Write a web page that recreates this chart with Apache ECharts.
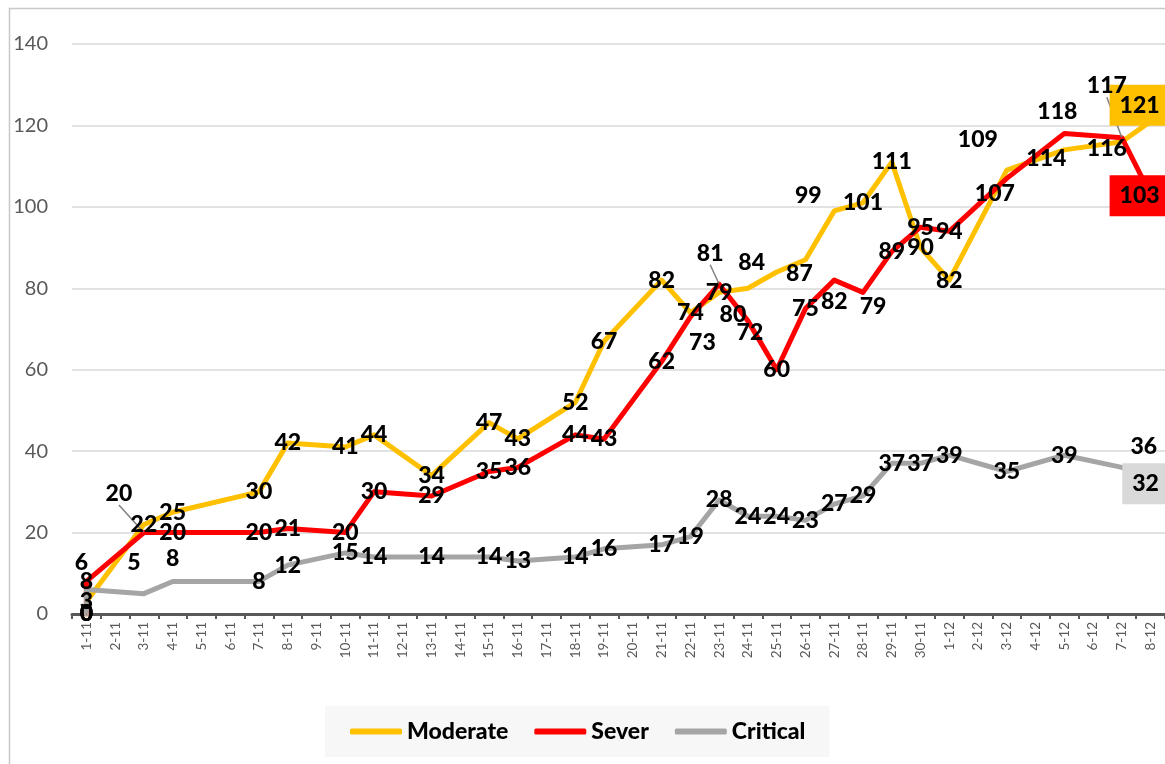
<!DOCTYPE html>
<html>
<head>
<meta charset="utf-8">
<script src="https://cdn.jsdelivr.net/npm/echarts@6/dist/echarts.min.js"></script>
<style>
html,body{margin:0;padding:0;background:#fff;}
#chart{width:1165px;height:764px;}
</style>
</head>
<body>
<div id="chart"></div>
<script>
const categories = ['1-11','2-11','3-11','4-11','5-11','6-11','7-11','8-11','9-11','10-11','11-11','12-11','13-11','14-11','15-11','16-11','17-11','18-11','19-11','20-11','21-11','22-11','23-11','24-11','25-11','26-11','27-11','28-11','29-11','30-11','1-12','2-12','3-12','4-12','5-12','6-12','7-12','8-12'];
const moderate = [3,null,22,25,null,null,30,42,null,41,44,null,34,null,47,43,null,52,67,null,82,74,79,80,84,87,99,101,111,90,82,null,109,null,114,null,116,121];
const sever    = [8,null,20,20,null,null,20,21,null,20,30,null,29,null,35,36,null,44,43,null,62,73,81,72,60,75,82,79,89,95,94,null,107,null,118,null,117,103];
const critical = [6,null,5,8,null,null,8,12,null,15,14,null,14,null,14,13,null,14,16,null,17,19,28,24,24,23,27,29,37,37,39,null,35,null,39,null,36,32];
// each series opens at 0 on the first day
const openingValues = [0, 0, 0];
const yTicks = [0, 20, 40, 60, 80, 100, 120, 140];

const seriesNames = ['Moderate', 'Sever', 'Critical'];
const seriesColors = ['#FFC000', '#FF0000', '#A5A5A5'];
const seriesValues = [moderate, sever, critical];

// label displacement (px) keyed by category index
const labelOffsets = [
  {23:[-15,26], 24:[-25,-9], 25:[-6,14], 26:[-26,-15], 32:[-29,-31], 34:[-18,9], 36:[-15,7], 37:[-11,-16]},
  {2:[-25,-39], 21:[12,26], 22:[-9,-31], 23:[2,12], 26:[0,21], 27:[10,14], 32:[-12,15], 34:[-7,-22], 36:[-15,-52], 37:[-11,1]},
  {0:[-5,-27], 2:[-10,-31], 3:[0,-23], 36:[22,-21], 37:[-5,0]}
];
const leaderLines = [[], [2, 22, 36], []];
const boxColors = ['#FFC000', '#FF0000', '#D9D9D9'];

const labelFont = 'Lato';
const series = seriesValues.map((vals, s) => {
  const catIdx = [0];
  const data = [{value: [0, openingValues[s]]}];
  vals.forEach((v, i) => {
    if (v === null) return;
    catIdx.push(i);
    const item = {value: [i, v]};
    if (leaderLines[s].includes(i)) item.labelLine = {show: true, lineStyle: {color: '#808080', width: 1.5}};
    if (i === vals.length - 1) item.label = {backgroundColor: boxColors[s], padding: [10, 10, 8, 10]};
    data.push(item);
  });
  return {
    name: seriesNames[s],
    type: 'line',
    data: data,
    symbol: 'circle',
    symbolSize: 1,
    showSymbol: true,
    itemStyle: {color: seriesColors[s]},
    lineStyle: {color: seriesColors[s], width: 5, cap: 'round', join: 'round'},
    label: {
      show: true,
      position: 'inside',
      color: '#000',
      fontFamily: labelFont,
      fontWeight: 900,
      fontSize: 23
    },
    labelLine: {show: false},
    labelLayout: function (p) {
      const ci = catIdx[p.dataIndex];
      const o = (p.dataIndex > 0) ? labelOffsets[s][ci] : null;
      return o ? {dx: o[0], dy: o[1]} : {};
    },
    emphasis: {disabled: true},
    animation: false
  };
});

const chart = echarts.init(document.getElementById('chart'), null, {renderer: 'canvas'});
chart.setOption({
  animation: false,
  backgroundColor: '#fff',
  graphic: [{
    type: 'rect', left: 7, top: 6, shape: {width: 1200, height: 800},
    style: {fill: 'none', stroke: '#C8C8C8', lineWidth: 1.5}, z: -10, silent: true
  }],
  grid: {left: 72, right: -3, top: 44, bottom: 150, containLabel: false},
  legend: {
    data: seriesNames,
    left: 325, top: 706,
    padding: [14, 24, 14, 25],
    itemGap: 26,
    itemWidth: 52,
    itemHeight: 6,
    icon: 'roundRect',
    backgroundColor: '#F7F7F7',
    textStyle: {fontFamily: labelFont, fontWeight: 900, fontSize: 23, color: '#000'}
  },
  xAxis: {
    type: 'category',
    data: categories,
    boundaryGap: true,
    axisLine: {lineStyle: {color: '#595959', width: 3}},
    axisTick: {show: true, length: 5, lineStyle: {color: '#595959', width: 2}},
    axisLabel: {rotate: 90, interval: 0, fontFamily: labelFont, fontSize: 13.5, color: '#595959', margin: 8},
    splitLine: {show: false}
  },
  yAxis: {
    type: 'value',
    min: yTicks[0],
    max: yTicks[yTicks.length - 1],
    interval: yTicks[1] - yTicks[0],
    axisLine: {show: false},
    axisTick: {show: false},
    axisLabel: {fontFamily: labelFont, fontSize: 20, color: '#595959', margin: 24},
    splitLine: {lineStyle: {color: '#D9D9D9', width: 1.5}}
  },
  series: series
});
</script>
</body>
</html>
